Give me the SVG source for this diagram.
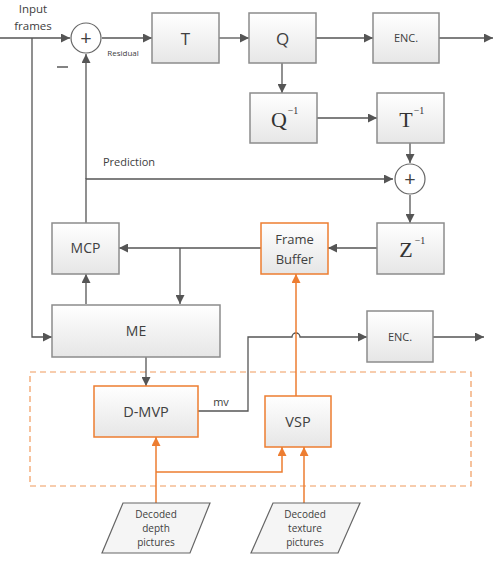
<svg xmlns="http://www.w3.org/2000/svg" width="495" height="563" viewBox="0 0 495 563">
  <defs>
    <linearGradient id="boxFill" x1="0" y1="0" x2="0" y2="1">
      <stop offset="0" stop-color="#ffffff"/>
      <stop offset="1" stop-color="#e6e6e6"/>
    </linearGradient>
    <marker id="arr" viewBox="0 0 10 10" refX="10" refY="5" markerWidth="9" markerHeight="9" markerUnits="userSpaceOnUse" orient="auto">
      <path d="M0,0 L10,5 L0,10 Z" fill="#555"/>
    </marker>
    <marker id="arrO" viewBox="0 0 10 10" refX="10" refY="5" markerWidth="9" markerHeight="9" markerUnits="userSpaceOnUse" orient="auto">
      <path d="M0,0 L10,5 L0,10 Z" fill="#ed7d31"/>
    </marker>
  </defs>
  <style>
    .box { fill: url(#boxFill); stroke: #8c8c8c; stroke-width: 1.5; }
    .obox { fill: url(#boxFill); stroke: #ed7d31; stroke-width: 1.5; }
    .sum { fill: #ffffff; stroke: #666; stroke-width: 1.2; }
    .ln { fill: none; stroke: #555; stroke-width: 1.3; }
    .oln { fill: none; stroke: #ed7d31; stroke-width: 1.5; }
    .dash { fill: none; stroke: #f09a5c; stroke-width: 1.2; stroke-dasharray: 6 4; }
    .t { font-family: "Open Sans", "Liberation Sans", sans-serif; fill: #404040; text-anchor: middle; }
    .s { font-family: "Liberation Serif", serif; fill: #333; text-anchor: middle; }
    .para { fill: #f5f5f5; stroke: #666; stroke-width: 1.2; }
  </style>

  <!-- processing region for depth-based tools -->
  <rect class="dash" x="30" y="372" width="441" height="114"/>

  <!-- connectors -->
  <g id="connectors">
    <!-- input -->
    <path class="ln" d="M0,38 H70" marker-end="url(#arr)"/>
    <path class="ln" d="M32,38 V337 H52" marker-end="url(#arr)"/>
    <path class="ln" d="M86,179 V54" marker-end="url(#arr)"/>
    <path class="ln" d="M86,223 V179 H393" marker-end="url(#arr)"/>
    <!-- forward path -->
    <path class="ln" d="M102,38 H152" marker-end="url(#arr)"/>
    <path class="ln" d="M219,38 H249" marker-end="url(#arr)"/>
    <path class="ln" d="M316,38 H373" marker-end="url(#arr)"/>
    <path class="ln" d="M439,38 H493" marker-end="url(#arr)"/>
    <path class="ln" d="M282,63 V93" marker-end="url(#arr)"/>
    <path class="ln" d="M317,118 H377" marker-end="url(#arr)"/>
    <path class="ln" d="M410,143 V163" marker-end="url(#arr)"/>
    <path class="ln" d="M410,195 V223" marker-end="url(#arr)"/>
    <path class="ln" d="M377,248 H328" marker-end="url(#arr)"/>
    <path class="ln" d="M261,248 H119" marker-end="url(#arr)"/>
    <path class="ln" d="M180,248 V304" marker-end="url(#arr)"/>
    <path class="ln" d="M86,304 V274" marker-end="url(#arr)"/>
    <path class="ln" d="M146,357 V386" marker-end="url(#arr)"/>
    <!-- motion vector output, hopping over the VSP link -->
    <path class="ln" d="M198,411 H248 V337 H292 A4,4 0 0 1 300,337 H367" marker-end="url(#arr)"/>
    <path class="ln" d="M433,337 H484" marker-end="url(#arr)"/>
    <!-- depth / texture inputs -->
    <path class="oln" d="M296,396 V274" marker-end="url(#arrO)"/>
    <path class="oln" d="M156,503 V437" marker-end="url(#arrO)"/>
    <path class="oln" d="M156,472 H282 V447" marker-end="url(#arrO)"/>
    <path class="oln" d="M304,503 V447" marker-end="url(#arrO)"/>
  </g>

  <!-- labels on connectors -->
  <text class="t" x="33" y="13" font-size="11.5">Input</text>
  <text class="t" x="33" y="30" font-size="11.5">frames</text>
  <text class="t" x="123" y="56" font-size="8">Residual</text>
  <path d="M57,67 H68" stroke="#404040" stroke-width="1.3"/>
  <text class="t" x="129" y="166" font-size="11">Prediction</text>
  <text class="t" x="221" y="406" font-size="11">mv</text>

  <!-- summing junctions -->
  <g id="sum1">
    <circle class="sum" cx="86" cy="38" r="15"/>
    <text class="t" x="86" y="45" font-size="20" fill="#333">+</text>
  </g>
  <g id="sum2">
    <circle class="sum" cx="410" cy="179" r="15"/>
    <text class="t" x="410" y="186" font-size="20" fill="#333">+</text>
  </g>

  <g id="T">
    <rect class="box" x="152" y="13" width="67" height="50"/>
    <text class="t" x="185.5" y="45" font-size="17">T</text>
  </g>
  <g id="Q">
    <rect class="box" x="249" y="13" width="67" height="50"/>
    <text class="t" x="282.5" y="45" font-size="17">Q</text>
  </g>
  <g id="ENC1">
    <rect class="box" x="373" y="13" width="66" height="50"/>
    <text class="t" x="406" y="42" font-size="11">ENC.</text>
  </g>
  <g id="Qinv">
    <rect class="box" x="250" y="93" width="67" height="50"/>
    <text class="s" x="279" y="127" font-size="22">Q</text>
    <text class="s" x="293" y="114" font-size="10">−1</text>
  </g>
  <g id="Tinv">
    <rect class="box" x="377" y="93" width="67" height="50"/>
    <text class="s" x="406" y="127" font-size="22">T</text>
    <text class="s" x="419" y="114" font-size="10">−1</text>
  </g>
  <g id="Zinv">
    <rect class="box" x="377" y="223" width="67" height="51"/>
    <text class="s" x="406" y="257" font-size="22">Z</text>
    <text class="s" x="420" y="244" font-size="10">−1</text>
  </g>
  <g id="FrameBuffer">
    <rect class="obox" x="261" y="223" width="67" height="51"/>
    <text class="t" x="294.5" y="244" font-size="13">Frame</text>
    <text class="t" x="294.5" y="264" font-size="13">Buffer</text>
  </g>
  <g id="MCP">
    <rect class="box" x="52" y="223" width="67" height="51"/>
    <text class="t" x="85.5" y="253" font-size="14">MCP</text>
  </g>
  <g id="ME">
    <rect class="box" x="52" y="305" width="168" height="52"/>
    <text class="t" x="136" y="336" font-size="14">ME</text>
  </g>
  <g id="ENC2">
    <rect class="box" x="367" y="311" width="66" height="51"/>
    <text class="t" x="400" y="341" font-size="11">ENC.</text>
  </g>
  <g id="DMVP">
    <rect class="obox" x="94" y="386" width="104" height="51"/>
    <text class="t" x="146" y="417" font-size="14.5">D-MVP</text>
  </g>
  <g id="VSP">
    <rect class="obox" x="265" y="396" width="66" height="51"/>
    <text class="t" x="298" y="427" font-size="14.5">VSP</text>
  </g>
  <g id="depth">
    <polygon class="para" points="123,503 210,503 190,553 102,553"/>
    <text class="t" x="156" y="518" font-size="10">Decoded</text>
    <text class="t" x="156" y="532" font-size="10">depth</text>
    <text class="t" x="156" y="546" font-size="10">pictures</text>
  </g>
  <g id="texture">
    <polygon class="para" points="273,503 360,503 338,553 251,553"/>
    <text class="t" x="305" y="518" font-size="10">Decoded</text>
    <text class="t" x="305" y="532" font-size="10">texture</text>
    <text class="t" x="305" y="546" font-size="10">pictures</text>
  </g>
</svg>
